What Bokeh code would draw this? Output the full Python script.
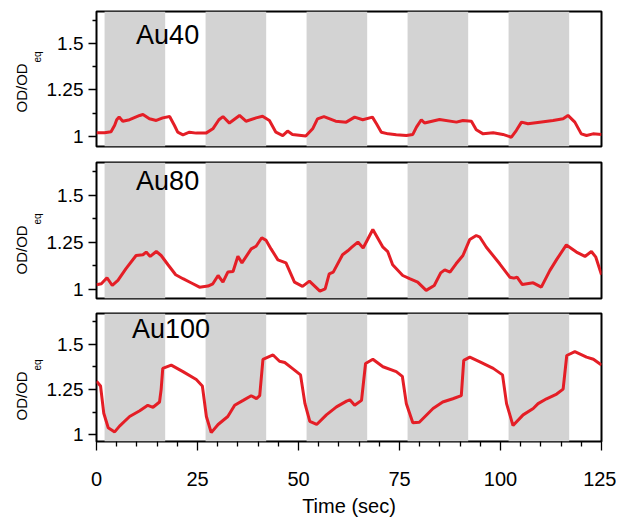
from bokeh.plotting import figure
from bokeh.models import Range1d, FixedTicker, BoxAnnotation, Label, Title, CustomJSTickFormatter
from bokeh.layouts import column
from bokeh.embed import file_html
from bokeh.resources import INLINE

# ---------------- data ----------------
band_starts = [2, 27, 52, 77, 102]
band_ends = [17, 42, 67, 92, 117]

y_ticks = [1, 1.25, 1.5]
y_minor = [1.125, 1.375, 1.625]
x_ticks = [0, 25, 50, 75, 100, 125]
x_minor = [5, 10, 15, 20, 30, 35, 40, 45, 55, 60, 65, 70, 80, 85, 90, 95, 105, 110, 115, 120]

t_au40 = [0, 2, 3.6, 4.5, 5.0, 5.6, 6.5, 8.2, 10.7, 11.5, 13.1, 14.8, 16.4, 18.1, 19.3, 20.1, 21.4, 23.0,
          24.7, 27.1, 28.8, 30.3, 31.3, 32.9, 35.4, 37.0, 39.5, 41.1, 42.8, 44.4, 46.1, 47.3, 48.5, 51.8,
          53.5, 54.7, 56.3, 59.2, 61.8, 63.9, 65.9, 68.3, 69.3, 70.5, 72.2, 74.2, 76.7, 78.3, 79.2, 80.4,
          81.2, 84.9, 89.1, 90.7, 92.8, 94.0, 95.7, 98.2, 100.6, 102.7, 103.9, 105.2, 106.8, 109.7, 113.0,
          115.5, 116.7, 118.4, 120.0, 121.3, 122.9, 125.0]
v_au40 = [1.02, 1.02, 1.025, 1.06, 1.09, 1.105, 1.082, 1.09, 1.113, 1.118, 1.095, 1.086, 1.1, 1.107, 1.059,
          1.023, 1.009, 1.023, 1.018, 1.018, 1.041, 1.09, 1.107, 1.072, 1.113, 1.082, 1.1, 1.109, 1.086,
          1.023, 1.005, 1.029, 1.011, 1.002, 1.041, 1.095, 1.107, 1.082, 1.077, 1.104, 1.09, 1.104, 1.068,
          1.023, 1.014, 1.009, 1.005, 1.011, 1.05, 1.09, 1.072, 1.091, 1.077, 1.086, 1.082, 1.036, 1.014,
          1.02, 1.011, 0.996, 1.032, 1.077, 1.068, 1.077, 1.086, 1.095, 1.113, 1.077, 1.014, 1.005, 1.014,
          1.011]

t_au80 = [0, 1.2, 2.6, 3.9, 5.3, 7.3, 9.8, 11.5, 12.3, 13.3, 14.8, 16.0, 17.7, 19.6, 21.4, 23.5, 25.5,
          27.6, 28.8, 30.1, 31.3, 32.5, 33.8, 35.0, 36.0, 38.3, 39.5, 40.9, 42.0, 43.2, 44.9, 46.9, 49.0,
          51.0, 52.7, 55.3, 56.6, 57.6, 58.6, 60.9, 62.2, 63.2, 64.7, 66.0, 68.4, 70.9, 72.1, 73.3, 75.8,
          77.5, 79.5, 81.6, 83.6, 85.2, 86.2, 87.5, 89.0, 90.7, 92.4, 94.0, 94.9, 96.5, 99.8, 102.3, 103.3,
          104.1, 105.4, 108.1, 110.1, 112.2, 114.0, 116.3, 118.8, 120.9, 122.5, 123.6, 125.0]
v_au80 = [1.025, 1.03, 1.062, 1.021, 1.048, 1.11, 1.18, 1.184, 1.198, 1.175, 1.201, 1.18, 1.131, 1.078,
          1.057, 1.034, 1.012, 1.018, 1.03, 1.074, 1.039, 1.092, 1.095, 1.176, 1.141, 1.215, 1.229, 1.274,
          1.26, 1.215, 1.157, 1.141, 1.039, 1.016, 1.044, 0.991, 1.003, 1.083, 1.092, 1.184, 1.205, 1.224,
          1.251, 1.22, 1.318, 1.224, 1.2, 1.131, 1.074, 1.057, 1.039, 0.995, 1.021, 1.088, 1.104, 1.092,
          1.136, 1.18, 1.265, 1.286, 1.277, 1.224, 1.136, 1.065, 1.06, 1.065, 1.026, 1.035, 1.012, 1.1,
          1.162, 1.236, 1.198, 1.175, 1.201, 1.171, 1.078]

t_au100 = [0, 1.0, 1.8, 2.9, 4.5, 5.7, 8.2, 10.7, 12.7, 14.0, 15.6, 16.0, 16.4, 18.5, 21.4, 24.7, 26.2,
           27.2, 28.4, 30.1, 32.5, 34.2, 36.3, 38.3, 39.6, 40.4, 41.2, 43.7, 45.3, 46.6, 48.7, 50.5, 51.6,
           52.8, 54.5, 56.9, 59.4, 61.9, 62.7, 63.9, 65.6, 66.6, 68.4, 70.9, 74.2, 75.7, 76.7, 78.3, 79.9,
           83.3, 85.7, 88.2, 90.3, 90.9, 92.4, 94.9, 98.2, 100.5, 101.5, 103.1, 105.6, 108.1, 109.3, 111.4,
           113.9, 115.5, 116.4, 118.4, 121.3, 123.0, 125.0]
v_au100 = [1.296, 1.27, 1.119, 1.039, 1.016, 1.048, 1.101, 1.133, 1.163, 1.152, 1.181, 1.25, 1.367, 1.385,
           1.349, 1.305, 1.27, 1.101, 1.012, 1.057, 1.101, 1.163, 1.19, 1.216, 1.2, 1.216, 1.417, 1.441,
           1.406, 1.399, 1.363, 1.331, 1.172, 1.074, 1.057, 1.11, 1.154, 1.186, 1.193, 1.163, 1.19, 1.394,
           1.417, 1.376, 1.349, 1.323, 1.172, 1.066, 1.069, 1.145, 1.181, 1.199, 1.216, 1.411, 1.429, 1.403,
           1.367, 1.331, 1.172, 1.051, 1.11, 1.145, 1.172, 1.199, 1.225, 1.252, 1.438, 1.459, 1.429, 1.417,
           1.385]

titles = ["Au40", "Au80", "Au100"]
y_label_main = "OD/OD"
y_label_sub = "eq"
x_label = "Time (sec)"

FONT = "Liberation Sans"
RED = "#e41e26"
GRAY = "#d3d3d3"


def make_panel(title, t, v, y0, y1, btop, frame_h, bbottom, show_x, title_x, title_y,
               od_offset, eq_offset):
    p = figure(width=616, height=btop + frame_h + bbottom,
               min_border_left=96, min_border_right=15,
               min_border_top=btop, min_border_bottom=bbottom,
               x_range=Range1d(0, 125), y_range=Range1d(y0, y1),
               toolbar_location=None, output_backend="svg",
               x_axis_location="below" if show_x else None)
    p.xgrid.visible = False
    p.ygrid.visible = False
    p.outline_line_color = "black"
    p.outline_line_width = 2
    p.background_fill_color = "white"
    p.border_fill_color = "white"

    for s, e in zip(band_starts, band_ends):
        p.add_layout(BoxAnnotation(left=s, right=e, fill_color=GRAY, fill_alpha=1.0,
                                   line_color=None, level="underlay"))

    p.line(t, v, line_color=RED, line_width=3)

    ya = p.yaxis[0]
    ya.ticker = FixedTicker(ticks=y_ticks, minor_ticks=y_minor)
    ya.formatter = CustomJSTickFormatter(code="return String(tick);")
    ya.axis_line_color = None
    ya.major_tick_out = 8
    ya.major_tick_in = 0
    ya.minor_tick_out = 4
    ya.minor_tick_in = 0
    ya.major_tick_line_width = 1.3
    ya.minor_tick_line_width = 1.3
    ya.major_label_text_font = FONT
    ya.major_label_text_font_size = "19px"
    ya.major_label_text_color = "black"
    ya.major_label_standoff = 5

    if show_x:
        xa = p.xaxis[0]
        xa.ticker = FixedTicker(ticks=x_ticks, minor_ticks=x_minor)
        xa.axis_line_color = None
        xa.major_tick_out = 9
        xa.major_tick_in = 0
        xa.minor_tick_out = 5
        xa.minor_tick_in = 0
        xa.major_tick_line_width = 1.3
        xa.minor_tick_line_width = 1.3
        xa.major_label_text_font = FONT
        xa.major_label_text_font_size = "20px"
        xa.major_label_text_color = "black"
        xa.major_label_standoff = 21
        xa.axis_label = x_label
        xa.axis_label_text_font = FONT
        xa.axis_label_text_font_size = "20px"
        xa.axis_label_text_font_style = "normal"
        xa.axis_label_text_color = "black"
        xa.axis_label_standoff = 6

    p.add_layout(Label(x=title_x, y=title_y, x_units="data", y_units="data", text=title,
                       text_font=FONT, text_font_size="27px", text_color="black",
                       text_baseline="alphabetic"))

    # rotated y label: "eq" next to the tick labels, "OD/OD" just outside it
    p.add_layout(Title(text=y_label_sub, align="left", offset=eq_offset, standoff=1,
                       text_font=FONT, text_font_size="10px", text_font_style="normal",
                       text_color="black"), "left")
    p.add_layout(Title(text=y_label_main, align="left", offset=od_offset, standoff=0,
                       text_font=FONT, text_font_size="15px", text_font_style="normal",
                       text_color="black"), "left")
    return p


p1 = make_panel(titles[0], t_au40, v_au40, 0.946, 1.672, 11, 135, 8, False, 9.8, 1.543, 34, 84)
p2 = make_panel(titles[1], t_au80, v_au80, 0.952, 1.673, 8, 136, 7, False, 9.8, 1.577, 24, 74)
p3 = make_panel(titles[2], t_au100, v_au100, 0.963, 1.670, 8, 133, 73, True, 8.8, 1.585, 21, 71)

layout = column(p1, p2, p3, spacing=0)
open("out.html", "w").write(file_html(layout, INLINE))
